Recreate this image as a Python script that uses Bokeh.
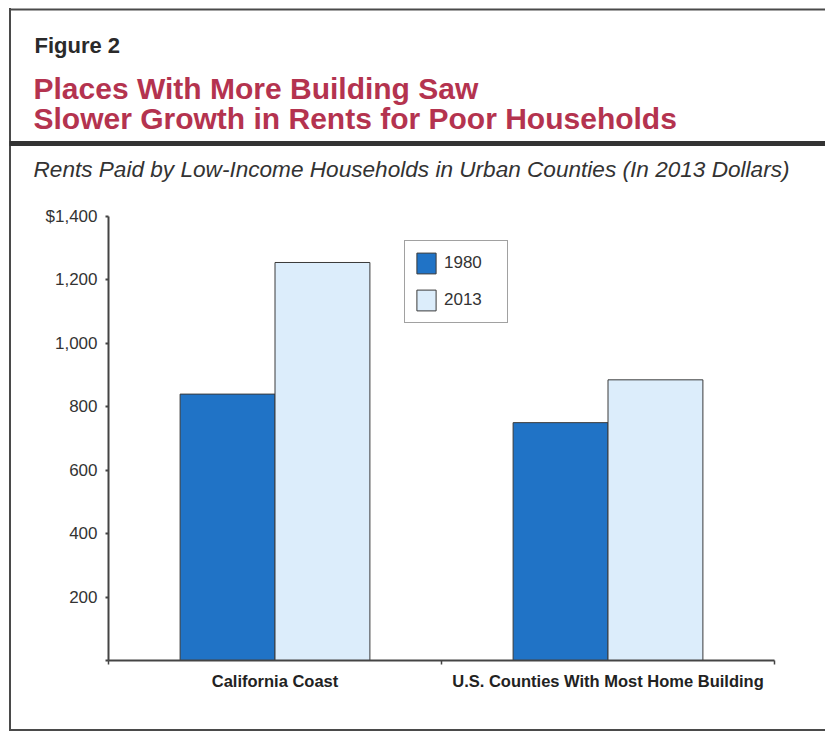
import numpy as np
from bokeh.plotting import figure
from bokeh.layouts import column, row
from bokeh.models import (ColumnDataSource, Range1d, FixedTicker, Label,
                          BoxAnnotation, Legend, LegendItem)
from bokeh.transform import dodge
from bokeh.embed import file_html
from bokeh.resources import INLINE

# ---------------- data ----------------
categories = ["California Coast", "U.S. Counties With Most Home Building"]
years = ["1980", "2013"]
rent_1980 = [840, 750]
rent_2013 = [1255, 885]
y_ticks = [0, 200, 400, 600, 800, 1000, 1200, 1400]
y_tick_labels = ["", "200", "400", "600", "800", "1,000", "1,200", "$1,400"]

fig_label = "Figure 2"
title_lines = ["Places With More Building Saw",
               "Slower Growth in Rents for Poor Households"]
subtitle = "Rents Paid by Low-Income Households in Urban Counties (In 2013 Dollars)"

# ---------------- styles ----------------
FONT = "Liberation Sans"
C1980 = "#2073c6"
C2013 = "#dcedfb"
EDGE = "#3a3a3a"
AXIS = "#444444"
RED = "#b4334f"
FRAME = "#4a4a4a"

W = 825
HEAD_H, MID_H = 200, 532

# ---------------- header ----------------
head = figure(width=W, height=HEAD_H, output_backend="svg", toolbar_location=None,
              x_range=Range1d(0, W), y_range=Range1d(HEAD_H, 0),
              x_axis_type=None, y_axis_type=None,
              min_border=0, min_border_left=0, min_border_right=0,
              min_border_top=0, min_border_bottom=0)
head.outline_line_color = None
head.grid.visible = False
head.background_fill_alpha = 0
head.border_fill_alpha = 0


def box(f, l, r, t, b, color):
    f.add_layout(BoxAnnotation(left=l, right=r, top=t, bottom=b,
                               fill_color=color, fill_alpha=1, line_color=None))


box(head, 9, W, 8, 10, FRAME)             # top border
box(head, 9, W, 140.5, 145.5, "#333333")  # thick rule


def head_label(text, x, y, size, style, color):
    head.add_layout(Label(text=text, x=x, y=y, text_font=FONT,
                          text_font_size=f"{size}px", text_font_style=style,
                          text_color=color, text_baseline="alphabetic",
                          text_align="left"))


head_label(fig_label, 34, 53 - 0.36 * 22, 22, "bold", "#2a2a2a")
head_label(title_lines[0], 33, 99 - 0.36 * 30, 30, "bold", RED)
head_label(title_lines[1], 33, 129 - 0.36 * 30, 30, "bold", RED)
head_label(subtitle, 33, 177 - 0.36 * 22.6, 22.6, "italic", "#333333")

# ---------------- chart ----------------
p = figure(width=W, height=MID_H, output_backend="svg",
           toolbar_location=None,
           x_range=Range1d(0, len(categories)), y_range=Range1d(0, 1400),
           min_border_left=108, min_border_right=51,
           min_border_top=16, min_border_bottom=72)
p.outline_line_color = None
p.grid.visible = False
p.background_fill_alpha = 0
p.border_fill_alpha = 0

src = ColumnDataSource(dict(xc=np.arange(len(categories)) + 0.5,
                            r1980=rent_1980, r2013=rent_2013))
bw = 0.285
r1 = p.vbar(x=dodge("xc", -bw / 2, range=p.x_range), top="r1980", width=bw,
            source=src, fill_color=C1980, line_color=EDGE, line_width=1)
r2 = p.vbar(x=dodge("xc", bw / 2, range=p.x_range), top="r2013", width=bw,
            source=src, fill_color=C2013, line_color=EDGE, line_width=1)

ya = p.yaxis[0]
ya.ticker = FixedTicker(ticks=y_ticks, minor_ticks=[])
ya.major_label_overrides = {t: l for t, l in zip(y_ticks, y_tick_labels)}
ya.axis_line_color = AXIS
ya.axis_line_width = 2
ya.major_tick_line_color = AXIS
ya.major_tick_line_width = 2
ya.major_tick_out = 3
ya.major_tick_in = 0
ya.minor_tick_line_color = None
ya.major_label_text_font = FONT
ya.major_label_text_font_size = "17px"
ya.major_label_text_color = "#333333"
ya.major_label_standoff = 8

xa = p.xaxis[0]
xa.ticker = FixedTicker(ticks=list(np.arange(len(categories)) + 0.5),
                        minor_ticks=list(np.arange(len(categories) + 1).astype(float)))
xa.major_label_overrides = {float(x): c for x, c in
                            zip(np.arange(len(categories)) + 0.5, categories)}
xa.axis_line_color = AXIS
xa.axis_line_width = 2
xa.major_tick_line_color = None
xa.minor_tick_line_color = AXIS
xa.minor_tick_line_width = 1.5
xa.minor_tick_out = 4
xa.minor_tick_in = 0
xa.major_label_text_font = FONT
xa.major_label_text_font_size = "16.5px"
xa.major_label_text_font_style = "bold"
xa.major_label_text_color = "#222222"
xa.major_label_standoff = 5

legend = Legend(items=[LegendItem(label=years[0], renderers=[r1]),
                       LegendItem(label=years[1], renderers=[r2])],
                location=(296, 337), orientation="vertical",
                glyph_width=24, glyph_height=26, label_height=26,
                spacing=11, padding=9, margin=0, label_standoff=6,
                label_width=54,
                label_text_font=FONT, label_text_font_size="17px",
                label_text_color="#333333",
                border_line_color="#444444", border_line_width=1.5,
                background_fill_color="white", background_fill_alpha=1)
p.add_layout(legend)

# page frame lines (left and bottom) drawn as the layout's background
frame_css = {
    "background-color": "white",
    "background-image": f"linear-gradient({FRAME},{FRAME}), linear-gradient({FRAME},{FRAME})",
    "background-size": "2px 723px, 816px 2px",
    "background-position": "9px 8px, 9px 729px",
    "background-repeat": "no-repeat",
}

# wrap the chart in a row so its frame is not aligned with the header's
layout = column(head, row(p, spacing=0), spacing=0, styles=frame_css)

open("out.html", "w").write(file_html(layout, INLINE))
